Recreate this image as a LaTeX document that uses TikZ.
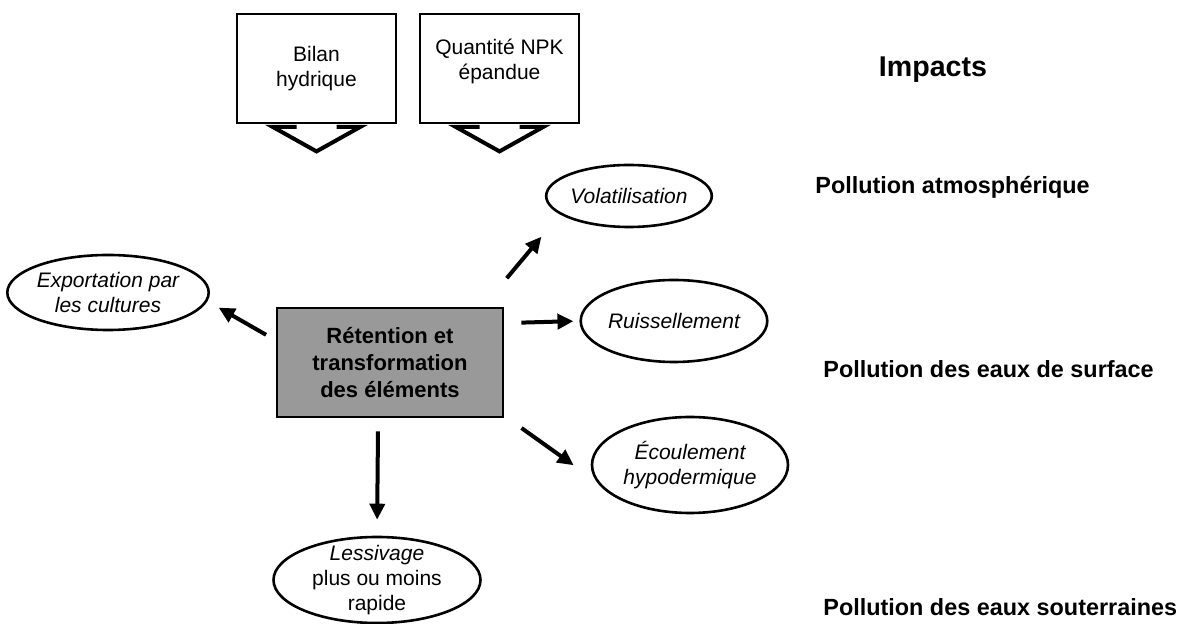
\documentclass[tikz,border=0pt]{standalone}
\usepackage{fontspec}
\setmainfont{Liberation Sans}
\usetikzlibrary{shapes.geometric,arrows.meta}

\tikzset{
  inputbox/.style={rectangle,draw,line width=1.4pt,minimum width=79.5pt,minimum height=54.5pt,inner sep=0pt,align=center,font=\fontsize{10.5}{12.5}\selectfont},
  effect/.style={ellipse,draw,line width=1.3pt,inner sep=0pt,align=center,font=\fontsize{10.5}{12.5}\selectfont\itshape},
  impact/.style={anchor=west,inner sep=0pt,font=\fontsize{11.7}{14}\selectfont\bfseries},
  flow/.style={-{Triangle[length=8pt,width=7.5pt]},line width=2pt},
  notch/.style={line width=2pt,line join=miter},
}

\begin{document}
\begin{tikzpicture}[x=0.5pt,y=-0.5pt]
    \useasboundingbox (0,0) rectangle (1179,624) ;

    \node[inputbox] (bilan) at (316.5,68.5) {Bilan\\hydrique} ;
    \node[inputbox] (npk) at (499.5,68.5) {Quantité NPK\\épandue\\[-3.5pt]\mbox{}} ;
    \foreach \inp in {bilan,npk}
        \draw[notch] ([xshift=-10pt,yshift=-1.2pt]\inp.south) -- ([xshift=-22pt,yshift=-1.2pt]\inp.south)
            -- ([yshift=-13.5pt]\inp.south) -- ([xshift=22pt,yshift=-1.2pt]\inp.south) -- ([xshift=10pt,yshift=-1.2pt]\inp.south) ;

    \node[rectangle,draw,line width=1.4pt,fill=black!40,minimum width=113pt,minimum height=54.5pt,align=center,font=\fontsize{11}{13.5}\selectfont\bfseries] (core) at (390,362.5) {Rétention et\\transformation\\des éléments} ;

    \node[effect,minimum width=96pt,minimum height=37.5pt] (export) at (108,292.5) {Exportation par\\les cultures} ;
    \node[effect,minimum width=82.5pt,minimum height=31pt] (vol) at (629,196) {Volatilisation} ;
    \node[effect,minimum width=91pt,minimum height=41pt] (ruis) at (674,321) {Ruissellement} ;
    \node[effect,minimum width=98pt,minimum height=48pt] (ecou) at (690,465) {Écoulement\\hypodermique} ;
    \node[effect,minimum width=103.5pt,minimum height=43pt,inner ysep=-3pt] (less) at (377,580) {Lessivage\\{\upshape plus ou moins}\\{\upshape rapide}} ;

    \node[inner sep=0pt,font=\fontsize{14.3}{17}\selectfont\bfseries] (impacts) at (933,70) {Impacts} ;
    \node[impact] (p_air) at (815,187) {Pollution atmosphérique} ;
    \node[impact] (p_surf) at (823,369) {Pollution des eaux de surface} ;
    \node[impact] (p_sout) at (823,607) {Pollution des eaux souterraines} ;

    \draw[flow,shorten <=5.5pt,shorten >=6.5pt] (core.169) -- (export.-5) ;
    \draw[flow,shorten <=18.5pt,shorten >=14.5pt] (core.31) -- (vol.195) ;
    \draw[flow,shorten <=8.5pt,shorten >=3pt] (core.19.5) -- (ruis.west) ;
    \draw[flow,shorten <=10.5pt,shorten >=14pt] (core.-25) -- (ecou.190) ;
    \draw[flow,shorten <=6.5pt,shorten >=8pt] (core.-102) -- (less.north) ;
\end{tikzpicture}
\end{document}
